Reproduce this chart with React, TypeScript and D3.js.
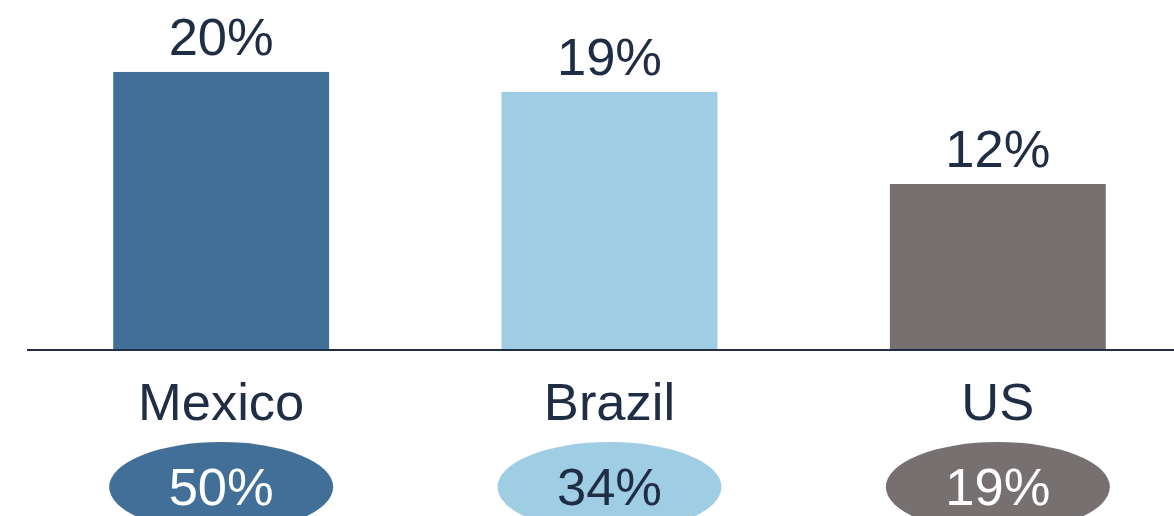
import React from "react";
import * as d3 from "d3";

const categories = ["Mexico", "Brazil", "US"];
const barValues = [20.15, 18.7, 12.0];
const barLabels = ["20%", "19%", "12%"];
const ovalLabels = ["50%", "34%", "19%"];
const colors = ["#426f97", "#9fcde3", "#767170"];
const ovalTextColors = ["#ffffff", "#1f2d45", "#ffffff"];

const W = 1174;
const H = 516;
const NAVY = "#1f2d45";
const FONT = "'Liberation Sans', Arial, Helvetica, sans-serif";
const FS = 52.5;

export default function App() {
  const x = d3
    .scaleBand<string>()
    .domain(categories)
    .range([27, 1192])
    .paddingInner(0.444)
    .paddingOuter(0.222);
  const y = d3.scaleLinear().domain([0, 25]).range([349, 5.25]);
  const bw = x.bandwidth();

  return (
    <svg
      width={W}
      height={H}
      style={{ position: "absolute", left: 0, top: 0, display: "block" }}
      fontFamily={FONT}
    >
      <rect width={W} height={H} fill="#ffffff" />
      {categories.map((c, i) => {
        const x0 = x(c)!;
        const cx = x0 + bw / 2;
        return (
          <g key={c}>
            <rect
              x={x0}
              y={y(barValues[i])}
              width={bw}
              height={y(0) - y(barValues[i])}
              fill={colors[i]}
            />
            <text
              x={cx}
              y={y(barValues[i]) - 17}
              textAnchor="middle"
              fontSize={FS}
              fill={NAVY}
            >
              {barLabels[i]}
            </text>
            <text x={cx} y={420} textAnchor="middle" fontSize={FS} fill={NAVY}>
              {c}
            </text>
            <ellipse cx={cx} cy={487} rx={112} ry={45} fill={colors[i]} />
            <text
              x={cx}
              y={505}
              textAnchor="middle"
              fontSize={FS}
              fill={ovalTextColors[i]}
            >
              {ovalLabels[i]}
            </text>
          </g>
        );
      })}
      <line x1={27} x2={W} y1={350} y2={350} stroke={NAVY} strokeWidth={2} />
    </svg>
  );
}
